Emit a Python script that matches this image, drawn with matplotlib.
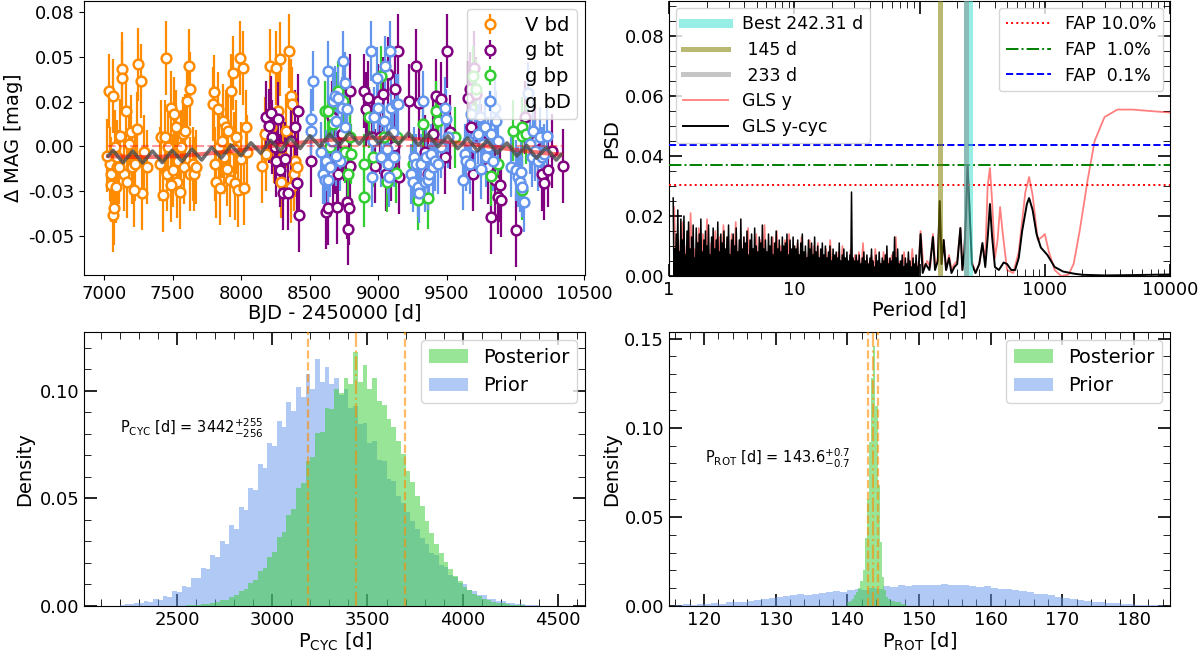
import numpy as np
import matplotlib
matplotlib.use("Agg")
import matplotlib.pyplot as plt
from matplotlib.ticker import FixedLocator, FixedFormatter, MultipleLocator, NullFormatter, LogLocator

# ---------------- photometry (BJD - 2450000, mag) ----------------
vbd_t = [7037, 7068, 7044, 7054, 7066, 7073, 7049, 7085, 7098, 7117, 7129, 7134, 7159, 7146, 7171, 7183,
         7195, 7207, 7224, 7239, 7249, 7268, 7276, 7220, 7288, 7317, 7112, 7093, 7024, 7078,
         7405, 7415, 7432, 7451, 7444, 7459, 7468, 7488, 7502, 7512, 7524, 7532, 7541, 7554, 7561, 7576,
         7585, 7593, 7605, 7617, 7624, 7629, 7646, 7659, 7671, 7488,
         7793, 7800, 7810, 7817, 7829, 7841, 7849, 7858, 7868, 7878, 7888, 7898, 7902, 7915, 7927, 7937,
         7946, 7956, 7963, 7976, 7988, 8000, 8012, 8019, 8032, 8039,
         8154, 8171, 8183, 8207, 8220, 8237, 8256, 8268, 8280, 8293, 8305, 8329, 8346, 8361, 8371, 8385,
         8395, 8405, 8366]
vbd_y = [33, 30, -10.5, -16.4, -41, -37, -23, -24, -12.5, 6.3, 45.9, 41, 21, -16.4, -21, 1.4,
         8.3, -12.5, -10.5, 10.3, 48.8, 39, -28, -26, -3.6, -12.5, -12.5, -6.5, -5.5, -0.6,
         -10.5, 5.3, -29, 52.4, 5.3, -16.4, -0.6, 23.1, -14.4, 19.2, 11.3, -21, -8.5, -27, -0.6, 7.3,
         -12.5, 9.3, 27, 47.8, 34, -16.4, -10.5, -16.4, -12.5, -23.3,
         25.1, 32.6, -10.5, -21, 22.1, -0.6, -25, 3.4, 15.2, -6.5, 11.3, -13.4, 9.3, -20, 33, 43.9,
         -1.6, -22, 5.3, -26, 52.8, -7.5, 46.9, -25, 11.3, -3.6,
         -11.5, 7.3, -4.5, 47.8, 11.3, 0.4, 46.9, 21.2, 51.8, -21, -6.5, 9.3, 56.7, 30, 25.1, -16.4,
         -8.5, -12.5, -24]

gbt_t = [8183, 8200, 8215, 8224, 8244, 8256, 8268, 8280, 8293, 8305, 8317, 8342, 8366, 8390, 8415, 8419, 8410,
         8512, 8622, 8634, 8659, 8671, 8698, 8707, 8732, 8751, 8768, 8780, 8785, 8790, 8795, 8683,
         8898, 8910, 8922, 8951, 8976, 8995, 9015, 9032, 9056, 9073, 9093, 9122, 9141, 9154, 9112,
         9227, 9276, 9300, 9337, 9361, 9398, 9422, 9454, 9488, 9502, 9520,
         9654, 9666, 9678, 9690, 9698, 9715, 9751, 9800, 9824, 9849, 9873, 9885, 9898,
         10007, 10068, 10141, 10190, 10210, 10239, 10349, 10263]
gbt_y = [17.2, 12.3, 20, 5.3, -0.6, -8.5, 16.2, -14.4, -0.6, -28, -7.5, -28, 3.4, 11.3, 21.2, -41, -22,
         -8.5, -39, -37, 17.2, -16.4, -36, -16.4, 7.3, 1.4, -33, -49, -37, 33, -11.5, -6.5,
         33, 22.1, 29, 5.3, -11.5, 27.1, 5.3, 31, -16.4, 42.9, -10.5, 34, 56.7, -18.4, 0.4,
         27.1, 47.8, 26, -3.6, -16.4, 7.3, 30, 28, -6.5, 56.7, 8.3,
         29, 34, 11.3, -16.4, 46.9, 31, 3.4, -12.5, -42, -20, -30, -23, -32,
         -50, 17.2, 3.4, -16.4, -22, -14.4, -11.5, -2.6]

gbp_t = [8610, 8634, 8646, 8671, 8688, 8707, 8744, 8756, 8776, 8800, 8793,
         8898, 8898, 8934, 8959, 9020, 9044, 9063, 9129, 9136, 9251, 9288, 9325, 9361, 9422, 9434,
         9556, 9690, 9715, 9824, 9873, 9983, 10044, 10044, 10044, 10080]
gbp_y = [21.2, 21.2, -0.6, 13.3, 26, 33, 27, -3.6, -16.4, -4.5, 5.3,
         -10.5, -30, 17.2, -6.5, 41.9, 5.3, -21, -15.8, 5.3, -10.5, -32, 13.3, -31, 21.2, 15.2,
         5.3, 41.9, 34, -17.4, -10.5, 9.3, 11.3, 6.3, -26, 7.3]

gbd_t = [8507, 8507, 8524, 8585, 8597, 8610, 8622, 8634, 8646, 8659, 8671, 8683, 8695, 8707, 8719, 8732,
         8744, 8756, 8768, 8756, 8695, 8634,
         8946, 8959, 8971, 8990, 9000, 9020, 9039, 9049, 9063, 9073, 9088, 9093, 9105, 9117, 9129, 9146,
         8951, 9080,
         9239, 9251, 9263, 9276, 9288, 9300, 9312, 9325, 9337, 9349, 9361, 9373, 9386, 9398, 9410, 9434,
         9459, 9483, 9495, 9507,
         9617, 9629, 9642, 9654, 9666, 9678, 9703, 9727, 9739, 9751, 9763, 9776, 9788, 9800, 9824, 9837,
         9849, 9861, 9873,
         9971, 10007, 10020, 10032, 10039, 10049, 10063, 10093, 10105, 10117, 10129, 10141, 10166, 10178,
         10190, 10210, 10227]
gbd_y = [16.2, 9.3, 39, -3.6, -16.4, -20, -8.5, 44.9, -12.5, 3.4, 27, 30, 15.2, 29, -8.5, 23.1,
         50.8, 38, 22.1, 11.3, -5.5, -20,
         56.7, 3.4, 17.2, 41, 23.1, -6.5, 15.2, 47.8, -1.6, -10.5, 56.7, 23.1, 8.3, -6.5, 25.1, 25.1,
         -18.4, -18.4,
         -16.4, -21, -6.5, -10.5, -24, -28, -10.5, 27, -21, -6.5, -20, -16.4, -4.5, -12.5, -8.5, -10.5,
         -0.6, 23.1, 16.2, 5.3,
         -20, -4.5, -8.5, 3.4, -10.5, 19.2, -0.6, 7.3, 17.2, -13.4, 1.4, 11.3, -6.5, -0.6, 7.3, -8.5,
         23.1, 15.2, 3.4,
         -12.5, -14.4, -18.4, -21, -15.4, -24, -33, 32, 1.4, -6.5, 9.3, -2.6, -8.5, 5.3,
         -6.5, -4.5, 6.3]

phot_err = {"V bd": 0.022, "g bt": 0.022, "g bp": 0.018, "g bD": 0.018}

# fitted model: activity cycle (red) and cycle + rotation (grey), mmag
model_t0, model_t1 = 7030, 10333
cycle_mmag = [-5.8, -6.3, -6.4, -6.1, -5.4, -4.4, -3.2, -1.8, -0.3, 1.2, 2.5, 3.6,
              4.4, 4.9, 5.0, 4.7, 4.0, 3.0, 1.8, 0.4, -1.1, -2.6, -3.9, -5.0]
full_mmag = [-5.8, -2.4, -6.05, -9.7, -6.3, -2.8, -6.35, -9.9, -6.4, -2.8, -6.25, -9.7,
             -6.1, -2.4, -5.75, -9.1, -5.4, -1.65, -4.9, -8.15, -4.4, -0.6, -3.8, -7.0,
             -3.2, 0.65, -2.5, -5.65, -1.8, 2.1, -1.05, -4.2, -0.3, 3.55, 0.45, -2.7,
             1.2, 5.0, 1.85, -1.3, 2.5, 6.3, 3.05, -0.2, 3.6, 7.3, 4.0, 0.7,
             4.4, 8.0, 4.65, 1.3, 4.9, 8.4, 4.95, 1.5, 5.0, 8.4, 4.85, 1.25,
             4.7, 8.0, 4.35, 0.7, 4.0, 7.25, 3.5, -0.25, 3.0, 6.2, 2.4, -1.4,
             1.8, 4.95, 1.1, -2.75, 0.4, 3.5, -0.35, -4.2, -1.1, 2.0, -1.85, -5.7,
             -2.6, 0.6, -3.25, -7.1, -3.9, -0.7, -4.45, -8.2, -5.0]

# ---------------- GLS periodogram ----------------
# dense short-period forest (peak heights, 1e-3), 1.08 d .. 98 d
forest_cyc = [26, 9, 14, 22, 8, 19, 12, 20, 7, 15, 18, 9, 13, 17, 6, 16, 11, 14, 19, 8,
              12, 15, 10, 17, 7, 13, 16, 9, 12, 18, 8, 14, 11, 15, 9, 13, 17, 7, 12, 14,
              10, 16, 8, 12, 19, 9, 13, 11, 15, 7, 12, 14, 9, 16, 10, 8, 13, 11, 17, 9,
              12, 8, 14, 10, 13, 7, 11, 15, 9, 12, 8, 13, 10, 11, 14, 7, 12, 9, 13, 10,
              9, 12, 7, 11, 14, 8, 10, 6, 12, 9, 11, 7, 13, 8, 10, 6, 9, 11, 7, 10,
              6, 8, 10, 5, 9, 7, 8, 6, 11, 5, 7, 9, 6, 8, 5, 7, 28, 6, 5, 7,
              5, 7, 4, 6, 8, 5, 7, 4, 6, 9, 5, 3, 7, 5, 8, 4, 6, 5, 7, 10,
              4, 6, 5, 8, 13, 6, 9, 4, 5, 7, 3, 6, 4, 8, 5, 3, 6, 4, 7, 3]
forest_y = [23, 12, 18, 10, 21, 9, 16, 14, 19, 11, 15, 13, 17, 8, 14, 18, 10, 13, 16, 9,
            14, 12, 17, 8, 13, 15, 10, 12, 14, 9, 11, 13, 8, 12, 10, 11, 7, 9, 12, 6,
            8, 10, 6, 9, 7, 8, 11, 6, 7, 9, 5, 8, 6, 7, 13, 5, 8, 6, 9, 5]
# long-period part (period [d], PSD)
long_p_cyc = [98, 102, 106, 112, 120, 128, 133, 140, 145, 150, 156, 163, 172, 180, 190, 200, 212, 220,
              228, 235, 242, 250, 262, 280, 300, 318, 335, 352, 365, 380, 400, 430, 470, 500, 540, 580,
              620, 660, 720, 750, 800, 860, 930, 1050, 1200, 1400, 1700, 2000, 3000, 5000, 10000]
long_cyc = [0.001, 0.014, 0.001, 0.004, 0.002, 0.013, 0.002, 0.005, 0.025, 0.004, 0.012, 0.002, 0.006,
            0.001, 0.003, 0.004, 0.016, 0.002, 0.008, 0.020, 0.037, 0.024, 0.004, 0.001, 0.004, 0.011,
            0.003, 0.014, 0.024, 0.013, 0.003, 0.002, 0.0045, 0.004, 0.002, 0.002, 0.006, 0.015, 0.024,
            0.026, 0.022, 0.014, 0.0095, 0.007, 0.003, 0.0015, 0.0008, 0.0004, 0.0002, 0.0003, 0.0005]
long_p_y = [98, 102, 108, 115, 122, 128, 134, 140, 145, 150, 156, 163, 172, 180, 190, 200, 212, 220,
            228, 235, 242, 250, 262, 280, 300, 318, 335, 350, 365, 380, 400, 420, 440, 460, 500, 560,
            620, 700, 750, 800, 880, 950, 1000, 1080, 1200, 1350, 1550, 1700, 1900, 2200, 2500, 3000,
            3800, 5000, 7000, 10000]
long_y = [0.002, 0.015, 0.002, 0.005, 0.003, 0.014, 0.003, 0.006, 0.024, 0.004, 0.012, 0.002, 0.007,
          0.002, 0.004, 0.005, 0.016, 0.002, 0.009, 0.020, 0.036, 0.023, 0.005, 0.001, 0.004, 0.010,
          0.006, 0.030, 0.036, 0.025, 0.006, 0.012, 0.023, 0.015, 0.002, 0.001, 0.008, 0.028, 0.033,
          0.027, 0.012, 0.013, 0.014, 0.008, 0.002, 0.0, 0.0005, 0.004, 0.015, 0.032, 0.045, 0.053,
          0.0555, 0.0555, 0.055, 0.0545]
fap_levels = {"FAP 10.0%": 0.0303, "FAP  1.0%": 0.0371, "FAP  0.1%": 0.0438}
best_period = 242.31
marked_periods = {" 145 d": 145.0, " 233 d": 233.0}

# ---------------- posteriors / priors ----------------
pcyc_post_start, pcyc_prior_start, pcyc_binw = 2500, 2200, 25
pcyc_post = [0.2, 0.2, 0.3, 0.5, 0.5, 0.9, 1.0, 1.5, 1.7, 2.6, 3.0, 4.4, 5.0, 6.9, 7.8, 10.8, 12.0, 16.1,
             17.6, 23.0, 25.0, 32.2, 34.5, 42.5, 45.2, 55.0, 57.0, 67.5, 69.5, 80.5, 81.0, 92.0, 91.5, 101,
             99.0, 106, 103, 118, 104, 112, 101, 106, 95.5, 93.5, 87.0, 83.0, 76.5, 70.5, 63.0, 57.5, 51.0,
             46.5, 39.5, 34.0, 29.0, 24.5, 20.5, 17.0, 14.0, 11.5, 9.0, 7.5, 5.8, 4.6, 3.4, 2.8, 2.0, 1.5,
             1.2, 0.8, 0.6, 0.5, 0.3, 0.2, 0.2, 0.1]
pcyc_prior = [0.4, 0.9, 0.7, 1.4, 1.2, 2.3, 1.9, 3.2, 2.9, 4.8, 4.2, 6.9, 6.4, 9.5, 9.0, 12.8, 12.9, 17.5,
              17.2, 23.5, 22.6, 30.0, 28.8, 37.5, 36.0, 46.0, 44.5, 55.0, 54.0, 66.0, 64.0, 76.0, 74.5,
              86.0, 83.0, 95.0, 90.5, 102, 97.0, 108, 101, 115, 104, 111, 103, 106, 98.0, 101, 92.0, 93.0,
              84.5, 85.0, 76.0, 76.5, 68.0, 67.5, 59.0, 58.0, 51.0, 48.0, 43.5, 39.5, 36.0, 31.5, 29.0,
              24.5, 23.5, 19.0, 18.0, 14.5, 13.5, 10.5, 10.0, 7.5, 7.0, 5.2, 4.9, 3.4, 3.3, 2.3, 2.2, 1.4,
              1.5, 0.8, 0.9, 0.4, 0.6, 0.3]
pcyc_q = [3186, 3442, 3697]

prot_post_start, prot_post_binw = 140.0, 0.3
prot_post = [2, 3, 4, 6, 8, 10, 14, 20, 38, 60, 92, 128, 146, 112, 68, 36, 16, 9, 5, 4, 3, 3, 2, 2, 2, 1, 1]
prot_prior_start, prot_prior_binw = 116, 1
prot_prior = [0.5, 1.0, 0.8, 1.0, 1.2, 1.5, 1.2, 2.0, 2.2, 2.5, 3.0, 3.5, 4.0, 4.5, 5.0, 5.8, 6.0, 6.5,
              6.3, 7.0, 7.5, 7.8, 8.5, 8.0, 9.0, 9.5, 9.0, 10.0, 9.5, 11.0, 10.5, 11.5, 11.0, 12.0, 11.5,
              12.0, 11.8, 12.2, 12.0, 11.5, 11.8, 11.0, 10.5, 11.0, 10.0, 9.5, 9.8, 9.0, 8.5, 7.8, 7.0,
              6.5, 6.0, 5.0, 4.5, 4.0, 3.5, 3.0, 2.5, 2.0, 1.8, 1.5, 1.2, 1.0, 0.8, 0.7, 0.5, 0.4]
prot_q = [142.9, 143.6, 144.3]

# ---------------- figure ----------------
W, H = 1200, 653
fig = plt.figure(figsize=(W / 100, H / 100), dpi=100)


def px_axes(x0, y0, x1, y1):
    return fig.add_axes([x0 / W, 1 - y1 / H, (x1 - x0) / W, (y1 - y0) / H])


ax1 = px_axes(84, 1, 585, 275)
ax2 = px_axes(669, 1, 1170, 276)
ax3 = px_axes(84, 332, 585, 606)
ax4 = px_axes(669, 332, 1170, 606)

TICK = 13
LAB = 14

# ---- panel 1: light curve
series = [("V bd", vbd_t, vbd_y, "darkorange"),
          ("g bt", gbt_t, gbt_y, "purple"),
          ("g bp", gbp_t, gbp_y, "limegreen"),
          ("g bD", gbd_t, gbd_y, "cornflowerblue")]
for name, t, y, c in series:
    ax1.errorbar(t, np.array(y) * 1e-3, yerr=phot_err[name], fmt="o", color=c, mfc="white",
                 mec=c, ms=7, mew=1.8, elinewidth=1.6, capsize=0, label=name)

t_cyc = np.linspace(model_t0, model_t1, len(cycle_mmag))
t_full = np.linspace(model_t0, model_t1, len(full_mmag))
ax1.plot([model_t0, model_t1 + 17], [0, 0], color="red", ls="--", lw=1.5, alpha=0.4, zorder=5)
ax1.plot(t_cyc, np.array(cycle_mmag) * 1e-3, color="red", lw=3, alpha=0.55, zorder=6)
ax1.plot(t_full, np.array(full_mmag) * 1e-3, color="0.3", lw=2.6, alpha=0.8, zorder=7)

ax1.set_xlim(6854, 10507)
ax1.set_ylim(-0.0767, 0.0866)
ax1.yaxis.set_major_locator(FixedLocator([0.08, 0.0533, 0.0267, 0.0, -0.0267, -0.0533]))
ax1.yaxis.set_major_formatter(FixedFormatter(["0.08", "0.05", "0.02", "0.00", "-0.03", "-0.05"]))
ax1.set_xticks(np.arange(7000, 10501, 500))
ax1.tick_params(labelsize=TICK)
ax1.set_xlabel("BJD - 2450000 [d]", fontsize=LAB, labelpad=1)
ax1.set_ylabel(r"$\Delta$ MAG [mag]", fontsize=LAB, labelpad=2)
ax1.legend(loc="upper right", fontsize=14, borderaxespad=0.4, handletextpad=1.0,
           handlelength=1.6, labelspacing=0.35, borderpad=0.35)

# ---- panel 2: periodogram
fp_cyc = np.geomspace(1.08, 98, 2 * len(forest_cyc))
fy_cyc = np.ravel(np.column_stack([np.array(forest_cyc) * 1e-3, np.zeros(len(forest_cyc))]))
fp_y = np.geomspace(1.1, 98, 2 * len(forest_y))
fy_y = np.ravel(np.column_stack([np.array(forest_y) * 1e-3, np.zeros(len(forest_y))]))

ax2.axvline(best_period, color="turquoise", lw=6.5, alpha=0.55, label="Best %.2f d" % best_period, zorder=4)
ax2.axvline(marked_periods[" 145 d"], color="olive", lw=3.6, alpha=0.55, label=" 145 d", zorder=4)
ax2.axvline(marked_periods[" 233 d"], color="gray", lw=3.6, alpha=0.45, label=" 233 d", zorder=4)
ax2.plot(fp_y, fy_y, color="red", lw=1.2, alpha=0.5, zorder=2)
ax2.plot(long_p_y, long_y, color="red", lw=1.3, alpha=0.5, label="GLS y", zorder=2)
ax2.plot(fp_cyc, fy_cyc, color="black", lw=1.1, zorder=3)
ax2.plot(long_p_cyc, long_cyc, color="black", lw=1.4, label="GLS y-cyc", zorder=3)
fap_style = {"FAP 10.0%": ("red", ":"), "FAP  1.0%": ("green", "-."), "FAP  0.1%": ("blue", "--")}
fap_handles = []
for lab, lev in fap_levels.items():
    c, ls = fap_style[lab]
    h = ax2.axhline(lev, color=c, ls=ls, lw=1.4, label=lab, zorder=3)
    fap_handles.append(h)

ax2.set_xscale("log")
ax2.set_xlim(1, 10000)
ax2.set_ylim(0, 0.0917)
ax2.set_xticks([1, 10, 100, 1000, 10000])
ax2.set_xticklabels(["1", "10", "100", "1000", "10000"])
ax2.xaxis.set_minor_locator(LogLocator(base=10, subs=np.arange(2, 10)))
ax2.xaxis.set_minor_formatter(NullFormatter())
ax2.set_yticks([0, 0.02, 0.04, 0.06, 0.08])
ax2.yaxis.set_minor_locator(MultipleLocator(0.005))
ax2.set_xlabel("Period [d]", fontsize=LAB, labelpad=1)
ax2.set_ylabel("PSD", fontsize=LAB, labelpad=2)
handles, labels = ax2.get_legend_handles_labels()
keep = [i for i, l in enumerate(labels) if not l.startswith("FAP")]
leg1 = ax2.legend([handles[i] for i in keep], [labels[i] for i in keep], loc="upper left",
                  fontsize=12.5, handlelength=2.6, borderaxespad=0.4, labelspacing=0.45)
ax2.add_artist(leg1)
ax2.legend(fap_handles, list(fap_levels.keys()), loc="upper right", fontsize=12.5,
           handlelength=2.6, borderaxespad=0.4, labelspacing=0.45)

# ---- panel 3: P_cyc
e_post = pcyc_post_start + pcyc_binw * np.arange(len(pcyc_post) + 1)
e_prior = pcyc_prior_start + pcyc_binw * np.arange(len(pcyc_prior) + 1)
ax3.stairs(np.array(pcyc_post) * 1e-3, e_post, fill=True, color="limegreen", alpha=0.5, label="Posterior", zorder=3)
ax3.stairs(np.array(pcyc_prior) * 1e-3, e_prior, fill=True, color="cornflowerblue", alpha=0.5, label="Prior", zorder=2)
for i, q in enumerate(pcyc_q):
    ax3.axvline(q, color="darkorange", alpha=0.6, lw=1.6, ls="-." if i == 1 else "--", zorder=4)
ax3.text(2200, 0.0825, r"P$_{\rm CYC}$ [d] = 3442$^{+255}_{-256}$", fontsize=10.5, va="center")
ax3.set_xlim(2012, 4642)
ax3.set_ylim(0, 0.1274)
ax3.set_xticks([2500, 3000, 3500, 4000, 4500])
ax3.set_yticks([0, 0.05, 0.10])
ax3.xaxis.set_minor_locator(MultipleLocator(100))
ax3.yaxis.set_minor_locator(MultipleLocator(0.01))
ax3.set_xlabel(r"P$_{\rm CYC}$ [d]", fontsize=LAB, labelpad=1)
ax3.set_ylabel("Density", fontsize=LAB, labelpad=4)
ax3.legend(loc="upper right", fontsize=14, borderaxespad=0.4)

# ---- panel 4: P_rot
e_rpost = prot_post_start + prot_post_binw * np.arange(len(prot_post) + 1)
e_rprior = prot_prior_start + prot_prior_binw * np.arange(len(prot_prior) + 1)
ax4.stairs(np.array(prot_post) * 1e-3, e_rpost, fill=True, color="limegreen", alpha=0.5, label="Posterior", zorder=3)
ax4.stairs(np.array(prot_prior) * 1e-3, e_rprior, fill=True, color="cornflowerblue", alpha=0.5, label="Prior", zorder=2)
for i, q in enumerate(prot_q):
    ax4.axvline(q, color="darkorange", alpha=0.6, lw=1.6, ls="-." if i == 1 else "--", zorder=4)
ax4.text(120.1, 0.083, r"P$_{\rm ROT}$ [d] = 143.6$^{+0.7}_{-0.7}$", fontsize=10.5, va="center")
ax4.set_xlim(115.1, 185.0)
ax4.set_ylim(0, 0.1537)
ax4.set_xticks(np.arange(120, 181, 10))
ax4.set_yticks([0, 0.05, 0.10, 0.15])
ax4.xaxis.set_minor_locator(MultipleLocator(2))
ax4.yaxis.set_minor_locator(MultipleLocator(0.01))
ax4.set_xlabel(r"P$_{\rm ROT}$ [d]", fontsize=LAB, labelpad=1)
ax4.set_ylabel("Density", fontsize=LAB, labelpad=2)
ax4.legend(loc="upper right", fontsize=14, borderaxespad=0.4)

for ax in (ax2, ax3, ax4):
    ax.tick_params(which="both", direction="in", top=True, right=True, labelsize=TICK)
    ax.tick_params(which="major", length=9, width=1.2)
    ax.tick_params(which="minor", length=5)

ax3.yaxis.set_major_formatter(FixedFormatter(["0.00", "0.05", "0.10"]))
ax4.yaxis.set_major_formatter(FixedFormatter(["0.00", "0.05", "0.10", "0.15"]))
ax2.yaxis.set_major_formatter(FixedFormatter(["0.00", "0.02", "0.04", "0.06", "0.08"]))

fig.savefig("out.png", dpi=100)
